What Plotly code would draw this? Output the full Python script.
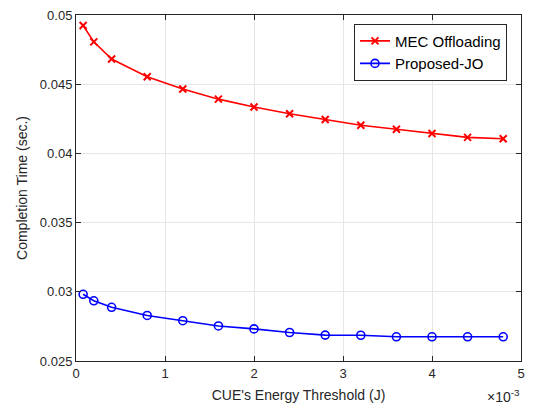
import plotly.graph_objects as go

# Energy threshold (x 1e-3 J)
threshold_e3 = [0.08, 0.2, 0.4, 0.8, 1.2, 1.6, 2.0, 2.4, 2.8, 3.2, 3.6, 4.0, 4.4, 4.8]
mec_offloading = [0.04924, 0.04806, 0.04682, 0.04554, 0.04465, 0.04392, 0.04335,
                  0.04286, 0.04245, 0.04203, 0.04175, 0.04144, 0.04116, 0.04106]
proposed_jo = [0.02982, 0.02935, 0.02888, 0.02829, 0.02791, 0.02753, 0.02732,
               0.02706, 0.02687, 0.02686, 0.02675, 0.02675, 0.02675, 0.02675]
x_ticks = [0, 1, 2, 3, 4, 5]
y_ticks = [0.025, 0.03, 0.035, 0.04, 0.045, 0.05]
y_tick_text = ["0.025", "0.03", "0.035", "0.04", "0.045", "0.05"]

threshold = [v * 1e-3 for v in threshold_e3]

FONT = "Liberation Sans, Arial, Helvetica, sans-serif"
TXT = "#262626"

fig = go.Figure()
fig.add_trace(go.Scatter(
    x=threshold, y=mec_offloading, mode="lines+markers", name="MEC Offloading",
    line=dict(color="#ff0000", width=1.6),
    marker=dict(symbol="x-thin", size=7, line=dict(color="#ff0000", width=2)),
))
fig.add_trace(go.Scatter(
    x=threshold, y=proposed_jo, mode="lines+markers", name="Proposed-JO",
    line=dict(color="#0000ff", width=1.6),
    marker=dict(symbol="circle-open", size=8, color="#0000ff", line=dict(color="#0000ff", width=1.6)),
))

axis_common = dict(
    showline=True, linecolor=TXT, linewidth=1, mirror="allticks",
    ticks="inside", ticklen=5, tickcolor=TXT, tickwidth=1,
    showgrid=True, gridcolor="#e6e6e6", gridwidth=1, zeroline=False,
    tickfont=dict(family=FONT, size=13, color=TXT),
)

fig.update_xaxes(
    range=[0, 5e-3], tickvals=[t * 1e-3 for t in x_ticks], ticktext=[str(t) for t in x_ticks],
    title=dict(text="CUE's Energy Threshold (J)", font=dict(family=FONT, size=14, color=TXT), standoff=10),
    **axis_common,
)
fig.update_yaxes(
    range=[0.025, 0.05], tickvals=y_ticks, ticktext=y_tick_text,
    title=dict(text="Completion Time (sec.)", font=dict(family=FONT, size=14, color=TXT), standoff=8),
    **axis_common,
)

fig.add_annotation(
    text="×10<sup>-3</sup>", xref="paper", yref="paper", x=1.002, y=-0.132,
    xanchor="right", yanchor="bottom", showarrow=False,
    font=dict(family=FONT, size=14, color=TXT),
)

fig.update_layout(
    width=533, height=408,
    margin=dict(l=76, r=12, t=8, b=46),
    paper_bgcolor="white", plot_bgcolor="white",
    font=dict(family=FONT, color=TXT),
    showlegend=True,
    legend=dict(
        x=0.9685, y=0.975, xanchor="right", yanchor="top",
        bgcolor="white", bordercolor=TXT, borderwidth=1,
        font=dict(family=FONT, size=15, color="black"),
        tracegroupgap=0, itemwidth=30,
    ),
)

fig.write_html("out.html")
